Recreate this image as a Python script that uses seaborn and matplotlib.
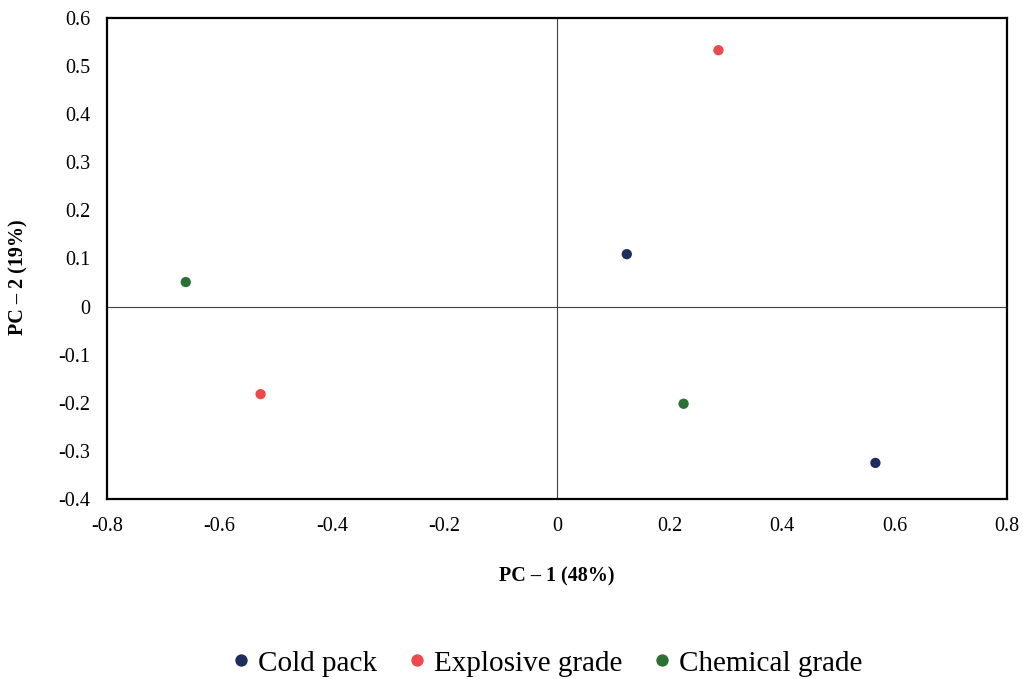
import matplotlib
matplotlib.use("Agg")
import matplotlib.pyplot as plt
import seaborn as sns
import pandas as pd

# PCA scores of the three grades
groups = ["Cold pack", "Cold pack", "Explosive grade", "Explosive grade",
          "Chemical grade", "Chemical grade"]
pc1 = [0.124, 0.566, 0.287, -0.527, -0.660, 0.225]
pc2 = [0.109, -0.325, 0.533, -0.182, 0.051, -0.202]
hue_order = ["Cold pack", "Explosive grade", "Chemical grade"]
colors = ["#1f2d5e", "#ee4a4e", "#2d7034"]
x_ticks = [-0.8, -0.6, -0.4, -0.2, 0, 0.2, 0.4, 0.6, 0.8]
y_ticks = [-0.4, -0.3, -0.2, -0.1, 0, 0.1, 0.2, 0.3, 0.4, 0.5, 0.6]

df = pd.DataFrame({"PC1": pc1, "PC2": pc2, "Group": groups})

sns.set_theme(style="white")
plt.rcParams["font.family"] = ["Liberation Serif", "DejaVu Serif"]
plt.rcParams["text.color"] = "black"

fig = plt.figure(figsize=(10.23, 6.79), dpi=100)
ax = fig.add_axes([0.1046, 0.2651, 0.8798, 0.7084])

ax.axhline(0, color="#404040", lw=0.8, zorder=1)
ax.axvline(0, color="#404040", lw=0.8, zorder=1)

sns.scatterplot(data=df, x="PC1", y="PC2", hue="Group", hue_order=hue_order,
                palette=colors, s=55, edgecolor="none", ax=ax, zorder=3,
                legend=True)

ax.set_xlim(-0.8, 0.8)
ax.set_ylim(-0.4, 0.6)
ax.set_xticks(x_ticks)
ax.set_yticks(y_ticks)
ax.set_xticklabels([f"{v:g}" for v in x_ticks])
ax.set_yticklabels([f"{v:g}" for v in y_ticks])
ax.tick_params(axis="both", length=0, labelsize=14.5, colors="black")
ax.tick_params(axis="x", pad=13)
ax.tick_params(axis="y", pad=12)

for side in ax.spines.values():
    side.set_color("black")
    side.set_linewidth(1.6)

ax.set_xlabel("PC – 1 (48%)", fontsize=14.5, fontweight="bold", labelpad=22,
              color="black")
ax.set_ylabel("PC – 2 (19%)", fontsize=14.5, fontweight="bold", color="black")
ax.yaxis.set_label_coords(-0.087, 0.4615)

handles, labels = ax.get_legend_handles_labels()
ax.get_legend().remove()
fig.legend(handles, labels, loc="center", bbox_to_anchor=(0.533, 0.023),
           ncol=3, frameon=False, fontsize=21, handletextpad=0.15,
           handlelength=0.9, columnspacing=0.9, markerscale=1.2)

fig.savefig("out.png", dpi=100, facecolor="white")
